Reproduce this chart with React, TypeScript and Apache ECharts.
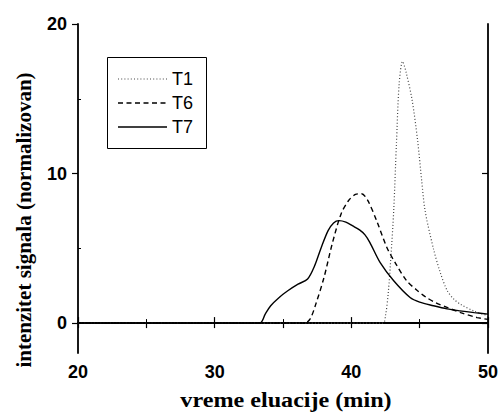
import React, { useEffect, useRef } from "react";
import * as echarts from "echarts";

const t1X = [20, 42.3, 42.5, 42.7, 42.9, 43.1, 43.3, 43.5, 43.75, 44.0, 44.45, 44.85, 45.15, 45.4, 46.0, 46.5, 47.0, 47.5, 48.0, 49.0, 50];
const t1Y = [0, 0, 0.5, 2, 4.5, 7.5, 12, 16, 17.5, 16.8, 14.9, 12.2, 9.5, 7.5, 5.0, 3.4, 2.2, 1.6, 1.25, 0.8, 0.5];

const t6X = [20, 36.6, 37.0, 37.4, 38.0, 38.6, 39.25, 39.8, 40.3, 40.75, 41.2, 41.85, 42.6, 43.3, 44.05, 44.8, 45.5, 46.2, 47.0, 48.0, 49.2, 50];
const t6Y = [0, 0, 0.3, 1.27, 3.05, 5.3, 7.3, 8.2, 8.6, 8.65, 8.2, 6.85, 5.06, 3.9, 2.83, 2.2, 1.71, 1.35, 1.05, 0.7, 0.37, 0.25];

const t7X = [20, 33.3, 33.7, 34.1, 34.7, 35.35, 36.1, 36.8, 37.3, 37.8, 38.3, 38.7, 39.1, 39.6, 40.1, 40.6, 41.0, 41.35, 42.1, 43.1, 44.3, 45.0, 46.0, 47.0, 47.95, 49.0, 50];
const t7Y = [0, 0, 0.6, 1.16, 1.7, 2.16, 2.6, 2.95, 3.8, 5.06, 6.18, 6.7, 6.85, 6.75, 6.5, 6.23, 5.9, 5.4, 4.06, 2.83, 1.71, 1.4, 1.16, 0.95, 0.82, 0.7, 0.6];

const seriesNames = ["T1", "T6", "T7"];
const yLabelValues = [0, 10, 20];
const yMinorValues = [5, 15];
const xTitle = "vreme eluacije (min)";
const yTitle = "intenzitet signala (normalizovan)";

const pairs = (xs: number[], ys: number[]) => xs.map((x, i) => [x, ys[i]]);

export default function App() {
  const ref = useRef<HTMLDivElement>(null);
  useEffect(() => {
    document.body.style.margin = "0";
    const chart = echarts.init(ref.current!, null, { renderer: "svg" });
    const tickFont = { fontFamily: "Liberation Sans", fontWeight: "bold" as const, fontSize: 18, color: "#000" };
    const black = "#000";
    const yBase = { type: "value" as const, min: -2, max: 20, splitLine: { show: false } };
    const styles = [
      { color: "#444", width: 1.2, dash: [1, 2.2] as number[] | null },
      { color: black, width: 1.4, dash: [5, 3.5] as number[] | null },
      { color: black, width: 1.4, dash: null as number[] | null },
    ];
    const legendEls: any[] = [];
    seriesNames.forEach((name, i) => {
      const y = 79 + i * 24;
      legendEls.push({
        type: "line",
        z: 20,
        shape: { x1: 118, y1: y, x2: 167, y2: y },
        style: { stroke: styles[i].color, lineWidth: styles[i].width, lineDash: styles[i].dash || undefined },
      });
      legendEls.push({
        type: "text",
        z: 20,
        x: 172,
        y: y,
        style: { text: name, font: "18px 'Liberation Sans'", fill: black, textVerticalAlign: "middle" },
      });
    });
    chart.setOption({
      animation: false,
      backgroundColor: "#fff",
      grid: { left: 78, right: 14, top: 24, bottom: 64 },
      xAxis: [
        {
          type: "value",
          min: 20,
          max: 50,
          interval: 10,
          position: "bottom",
          axisLine: { lineStyle: { color: black, width: 1.8 } },
          axisTick: { inside: true, length: 6, lineStyle: { color: black, width: 1.2 } },
          minorTick: { show: true, splitNumber: 2, length: 4, lineStyle: { color: black, width: 1 } },
          axisLabel: { ...tickFont, margin: 10 },
          splitLine: { show: false },
        },
        {
          type: "value",
          min: 20,
          max: 50,
          interval: 5,
          position: "top",
          axisLine: { lineStyle: { color: black, width: 1.8 } },
          axisTick: { inside: true, length: 5, lineStyle: { color: black, width: 1.2 } },
          axisLabel: { show: false },
          splitLine: { show: false },
        },
      ],
      yAxis: [
        {
          ...yBase,
          position: "left",
          axisLine: { show: true, lineStyle: { color: black, width: 1.8 } },
          axisTick: { show: true, inside: false, length: 6, customValues: yLabelValues, lineStyle: { color: black, width: 1.2 } },
          axisLabel: { ...tickFont, margin: 11, customValues: yLabelValues },
        },
        {
          ...yBase,
          position: "left",
          axisLine: { show: false },
          axisTick: { show: true, inside: true, length: 3, customValues: yMinorValues, lineStyle: { color: black, width: 1 } },
          axisLabel: { show: false },
        },
        {
          ...yBase,
          position: "right",
          axisLine: { show: true, lineStyle: { color: black, width: 1.8 } },
          axisTick: { show: true, inside: true, length: 6, customValues: [0, 10], lineStyle: { color: black, width: 1.2 } },
          axisLabel: { show: false },
        },
      ],
      graphic: [
        {
          type: "rect",
          z: 10,
          shape: { x: 107.5, y: 57.5, width: 99, height: 91 },
          style: { fill: "#fff", stroke: black, lineWidth: 1 },
        },
        ...legendEls,
        {
          type: "text",
          x: 286,
          y: 400,
          scaleX: 1.15,
          style: { text: xTitle, font: "bold 21px 'Liberation Serif'", fill: black, textAlign: "center", textVerticalAlign: "middle" },
        },
        {
          type: "text",
          x: 24,
          y: 220,
          rotation: Math.PI / 2,
          style: { text: yTitle, font: "bold 21px 'Liberation Serif'", fill: black, textAlign: "center", textVerticalAlign: "middle" },
        },
      ],
      series: seriesNames.map((name, i) => ({
        name,
        type: "line",
        symbol: "none",
        data: pairs([t1X, t6X, t7X][i], [t1Y, t6Y, t7Y][i]),
        smooth: 0.3,
        lineStyle: { color: styles[i].color, width: styles[i].width, type: styles[i].dash || "solid" },
      })),
    });
    return () => chart.dispose();
  }, []);
  return <div ref={ref} style={{ width: 502, height: 417 }} />;
}
